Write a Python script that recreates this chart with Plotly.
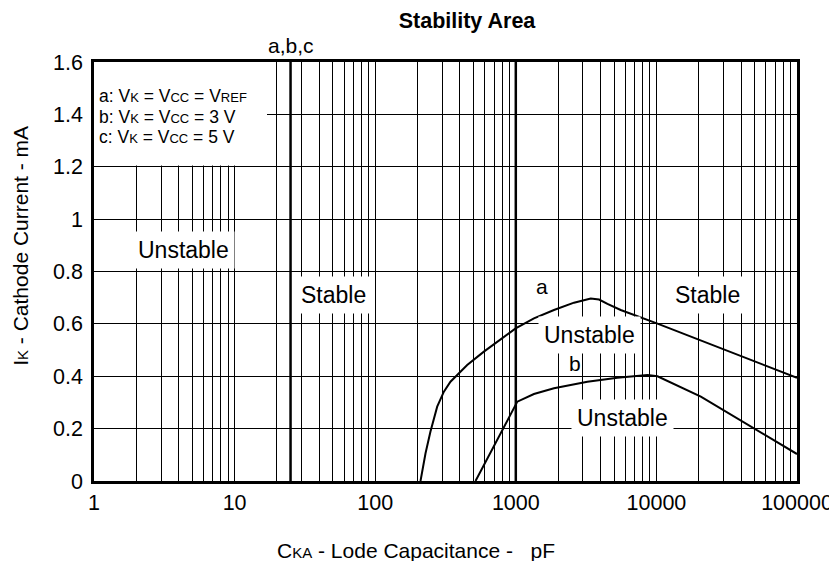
import math
import plotly.graph_objects as go

# curve a: Vk = Vcc = Vref
cap_a = [210, 228, 247, 276, 308, 343, 383, 451, 593, 780, 997, 1346, 1868, 2594,
         3411, 3910, 4486, 5573, 10070, 100000]
cur_a = [0.0, 0.106, 0.188, 0.284, 0.341, 0.379, 0.405, 0.443, 0.494, 0.541, 0.583,
         0.621, 0.653, 0.681, 0.697, 0.693, 0.676, 0.653, 0.602, 0.394]

# curve b: Vk = Vcc = 3 V
cap_b = [517, 1025, 1346, 1868, 3229, 5280, 8640, 10180, 20700, 100000]
cur_b = [0.0, 0.303, 0.332, 0.354, 0.379, 0.394, 0.405, 0.400, 0.322, 0.103]

x_ticks = [1, 10, 100, 1000, 10000, 100000]
x_ticktext = ['1', '10', '100', '1000', '10000', '100000']
ref_lines = [25, 1000]

# region labels (x, y, text)
region_x = [4.33, 50.6, 23030, 3356, 5738]
region_y = [0.882, 0.71, 0.71, 0.557, 0.239]
region_txt = ['Unstable', 'Stable', 'Stable', 'Unstable', 'Unstable']

# curve labels
curve_lbl_x = [1545, 2624]
curve_lbl_y = [0.742, 0.449]
curve_lbl_txt = ['a', 'b']

FONT = 'Liberation Sans, Arial, sans-serif'


def sub(t, size=13):
    return '<span style="font-size:%dpx">%s</span>' % (size, t)


legend_lines = [
    'a: V' + sub('K') + ' = V' + sub('CC') + ' = V' + sub('REF'),
    'b: V' + sub('K') + ' = V' + sub('CC') + ' = 3 V',
    'c: V' + sub('K') + ' = V' + sub('CC') + ' = 5 V',
]
legend_y = [0.919, 0.868, 0.820]

fig = go.Figure()

fig.add_trace(go.Scatter(x=cap_a, y=cur_a, mode='lines', line=dict(color='black', width=2),
                         showlegend=False))
fig.add_trace(go.Scatter(x=cap_b, y=cur_b, mode='lines', line=dict(color='black', width=2),
                         showlegend=False))

# 굵은 기준선
for xv in ref_lines:
    fig.add_shape(type='line', xref='x', yref='paper', x0=xv, x1=xv, y0=0, y1=1,
                  line=dict(color='black', width=2.5), layer='between')

# 범례 상자 (흰 배경)
fig.add_shape(type='rect', xref='x', yref='y', x0=1, x1=17, y0=1.205, y1=1.6,
              fillcolor='white', line=dict(width=0), layer='between')

for t, yv in zip(legend_lines, legend_y):
    fig.add_annotation(text=t, xref='paper', yref='paper', x=0.004, y=yv,
                       xanchor='left', yanchor='middle', align='left', showarrow=False,
                       font=dict(size=17.5, color='black', family=FONT))

for xv, yv, t in zip(region_x, region_y, region_txt):
    fig.add_annotation(text=t, x=math.log10(xv), y=yv, showarrow=False, bgcolor='white',
                       borderpad=5, font=dict(size=23, color='black', family=FONT))

for xv, yv, t in zip(curve_lbl_x, curve_lbl_y, curve_lbl_txt):
    fig.add_annotation(text=t, x=math.log10(xv), y=yv, showarrow=False,
                       font=dict(size=21, color='black', family=FONT))

fig.add_annotation(text='a,b,c', x=math.log10(ref_lines[0]), xref='x', yref='paper', y=1.04,
                   showarrow=False, xanchor='center', yanchor='middle',
                   font=dict(size=21, color='black', family=FONT))

# 축 제목
fig.add_annotation(text='C' + sub('KA', 15) + ' - Lode Capacitance -   pF', xref='paper',
                   yref='paper', x=0.458, y=-0.166, xanchor='center', yanchor='middle',
                   showarrow=False, font=dict(size=21, color='black', family=FONT))
fig.add_annotation(text='I' + sub('K', 15) + ' - Cathode Current - mA', xref='paper',
                   yref='paper', x=-0.104, y=0.561, xanchor='center', yanchor='middle',
                   textangle=-90, showarrow=False,
                   font=dict(size=21, color='black', family=FONT))

fig.update_layout(
    title=dict(text='<b>Stability Area</b>', x=459 / 837, y=1 - 12 / 553, xref='container',
               yref='container', xanchor='center', yanchor='middle',
               font=dict(size=21.5, color='black', family=FONT)),
    width=837, height=553,
    margin=dict(l=86, r=48, t=54, b=80),
    plot_bgcolor='white', paper_bgcolor='white',
    font=dict(family=FONT, color='black', size=21.5),
    showlegend=False,
)
fig.update_xaxes(type='log', range=[0, 5], tickvals=x_ticks, ticktext=x_ticktext,
                 showgrid=True, gridcolor='black', gridwidth=1.3,
                 minor=dict(dtick='D1', showgrid=True, gridcolor='black', gridwidth=1),
                 showline=True, linecolor='black', linewidth=2.5, mirror=True,
                 ticks='', zeroline=False, tickfont=dict(size=21.5),
                 automargin=False, ticklabeloverflow='allow')
fig.update_yaxes(range=[0, 1.6], dtick=0.2, showgrid=True, gridcolor='black', gridwidth=1,
                 showline=True, linecolor='black', linewidth=2.5, mirror=True,
                 ticks='', zeroline=False, tickfont=dict(size=21.5), ticklabelstandoff=4,
                 automargin=False)

fig.write_html('out.html')
